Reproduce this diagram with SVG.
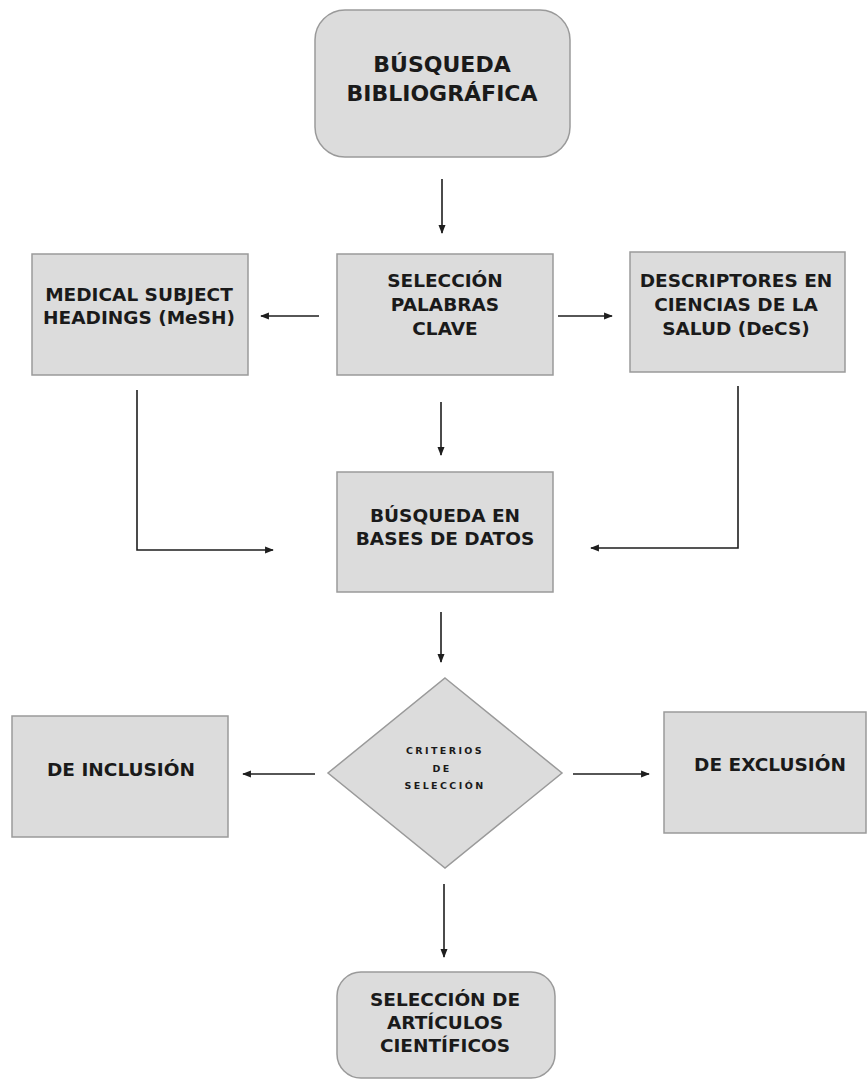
<svg xmlns="http://www.w3.org/2000/svg" width="868" height="1080" viewBox="0 0 868 1080">
<style>
.box{fill:#dcdcdc;stroke:#9a9a9a;stroke-width:1.5}
.t{font-family:"DejaVu Sans",Verdana,sans-serif;font-weight:bold;font-size:18.5px;fill:#1a1a1a;text-anchor:middle}
.tb{font-size:22px}
.ts{font-size:9.5px;letter-spacing:2.4px}
.c{fill:none;stroke:#1e1e1e;stroke-width:1.6}
</style>
<defs>
<marker id="ah" viewBox="0 0 10 10" refX="9" refY="5" markerWidth="5.5" markerHeight="5.5" orient="auto" markerUnits="strokeWidth">
<path d="M0,1 L10,5 L0,9 z" fill="#1e1e1e"/>
</marker>
</defs>
<rect width="868" height="1080" fill="#ffffff"/>
<g id="connectors">
<line class="c" x1="442" y1="179" x2="442" y2="233" marker-end="url(#ah)"/>
<line class="c" x1="319" y1="316" x2="261" y2="316" marker-end="url(#ah)"/>
<line class="c" x1="558" y1="316" x2="612" y2="316" marker-end="url(#ah)"/>
<line class="c" x1="441" y1="402" x2="441" y2="455" marker-end="url(#ah)"/>
<polyline class="c" points="137,390 137,550 273,550" marker-end="url(#ah)"/>
<polyline class="c" points="738,386 738,548 591,548" marker-end="url(#ah)"/>
<line class="c" x1="441" y1="612" x2="441" y2="662" marker-end="url(#ah)"/>
<line class="c" x1="315" y1="774" x2="243" y2="774" marker-end="url(#ah)"/>
<line class="c" x1="573" y1="774" x2="649" y2="774" marker-end="url(#ah)"/>
<line class="c" x1="444" y1="884" x2="444" y2="957" marker-end="url(#ah)"/>
</g>
<g id="busqueda-bibliografica">
<rect class="box" x="315" y="10" width="255" height="147" rx="30"/>
<text class="t tb" x="442" y="72">BÚSQUEDA</text>
<text class="t tb" x="442" y="101">BIBLIOGRÁFICA</text>
</g>
<g id="mesh">
<rect class="box" x="32" y="254" width="216" height="121"/>
<text class="t" x="139" y="301">MEDICAL SUBJECT</text>
<text class="t" x="139" y="324">HEADINGS (MeSH)</text>
</g>
<g id="seleccion-palabras">
<rect class="box" x="337" y="254" width="216" height="121"/>
<text class="t" x="445" y="287">SELECCIÓN</text>
<text class="t" x="445" y="311">PALABRAS</text>
<text class="t" x="445" y="335">CLAVE</text>
</g>
<g id="decs">
<rect class="box" x="630" y="252" width="215" height="120"/>
<text class="t" x="736" y="287">DESCRIPTORES EN</text>
<text class="t" x="736" y="311">CIENCIAS DE LA</text>
<text class="t" x="736" y="335">SALUD (DeCS)</text>
</g>
<g id="busqueda-bases">
<rect class="box" x="337" y="472" width="216" height="120"/>
<text class="t" x="445" y="522">BÚSQUEDA EN</text>
<text class="t" x="445" y="545">BASES DE DATOS</text>
</g>
<g id="criterios">
<polygon class="box" points="445,678 562,773 445,868 328,773"/>
<text class="t ts" x="445" y="754">CRITERIOS</text>
<text class="t ts" x="442" y="772">DE</text>
<text class="t ts" x="445" y="789">SELECCIÓN</text>
</g>
<g id="inclusion">
<rect class="box" x="12" y="716" width="216" height="121"/>
<text class="t" x="121" y="776">DE INCLUSIÓN</text>
</g>
<g id="exclusion">
<rect class="box" x="664" y="712" width="202" height="121"/>
<text class="t" x="770" y="771">DE EXCLUSIÓN</text>
</g>
<g id="seleccion-articulos">
<rect class="box" x="337" y="972" width="218" height="106" rx="24"/>
<text class="t" x="445" y="1006">SELECCIÓN DE</text>
<text class="t" x="445" y="1029">ARTÍCULOS</text>
<text class="t" x="445" y="1052">CIENTÍFICOS</text>
</g>
</svg>
